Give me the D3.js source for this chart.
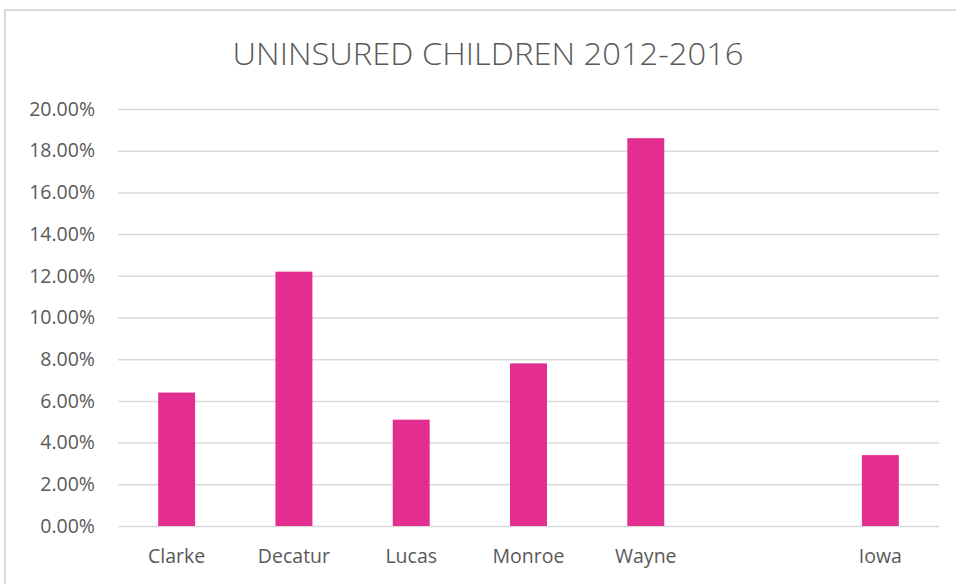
<!DOCTYPE html>
<html>
<head>
<meta charset="utf-8">
<script src="https://cdn.jsdelivr.net/npm/d3@7"></script>
<style>
  body { margin: 0; background: #fff; }
  text { font-family: "Open Sans", "Liberation Sans", sans-serif; fill: #595959; }
</style>
</head>
<body>
<div id="chart"></div>
<script>
const categories = ["Clarke", "Decatur", "Lucas", "Monroe", "Wayne", "", "Iowa"]
const values = [0.064, 0.122, 0.051, 0.078, 0.186, null, 0.034]
const yTicks = [0, 0.02, 0.04, 0.06, 0.08, 0.10, 0.12, 0.14, 0.16, 0.18, 0.20]
const title = "UNINSURED CHILDREN 2012-2016"

const W = 956, H = 584
const margin = {top: 109, right: 17, bottom: 58, left: 118}
const width = W - margin.left - margin.right,
    height = H - margin.top - margin.bottom

const svg = d3.select("#chart")
    .append("svg")
    .attr("width", W)
    .attr("height", H)

// chart area border
svg.append("rect")
    .attr("x", 5).attr("y", 10)
    .attr("width", W + 20).attr("height", H + 20)
    .attr("fill", "none")
    .attr("stroke", "#d9d9d9")
    .attr("stroke-width", 2)

svg.append("text")
    .attr("x", 488).attr("y", 65)
    .attr("text-anchor", "middle")
    .attr("font-size", 31)
    .attr("font-weight", 300)
    .attr("textLength", 511)
    .attr("lengthAdjust", "spacingAndGlyphs")
    .text(title)

const g = svg.append("g")
    .attr("transform", "translate(" + margin.left + "," + margin.top + ")")

const x = d3.scaleBand()
    .domain(d3.range(categories.length))
    .range([0, width])
    .paddingInner(0.685)
    .paddingOuter(0.3425)

const y = d3.scaleLinear()
    .domain([0, 0.2])
    .range([height, 0])

const fontSize = 19.5

// gridlines + labels
const yAxis = g.append("g")
    .call(d3.axisLeft(y).tickValues(yTicks).tickSize(-width).tickPadding(23)
        .tickFormat(d => (d * 100).toFixed(2) + "%"))
yAxis.select(".domain").remove()
yAxis.selectAll("line").attr("stroke", "#d9d9d9").attr("stroke-width", 1.5)
yAxis.selectAll("text").attr("font-size", fontSize).attr("fill", "#595959")
    .attr("font-family", "'Open Sans', 'Liberation Sans', sans-serif")

const xAxis = g.append("g")
    .attr("transform", "translate(0," + height + ")")
    .call(d3.axisBottom(x).tickSize(0).tickPadding(23).tickFormat(i => categories[i]))
xAxis.select(".domain").remove()
xAxis.selectAll("text").attr("font-size", fontSize).attr("fill", "#595959")
    .attr("font-family", "'Open Sans', 'Liberation Sans', sans-serif")

g.append("g")
    .selectAll("rect")
    .data(values.map((v, i) => ({v, i})).filter(d => d.v != null))
    .enter()
    .append("rect")
    .attr("x", d => x(d.i))
    .attr("y", d => y(d.v))
    .attr("width", x.bandwidth())
    .attr("height", d => height - y(d.v))
    .attr("fill", "#e32d91")
</script>
</body>
</html>
